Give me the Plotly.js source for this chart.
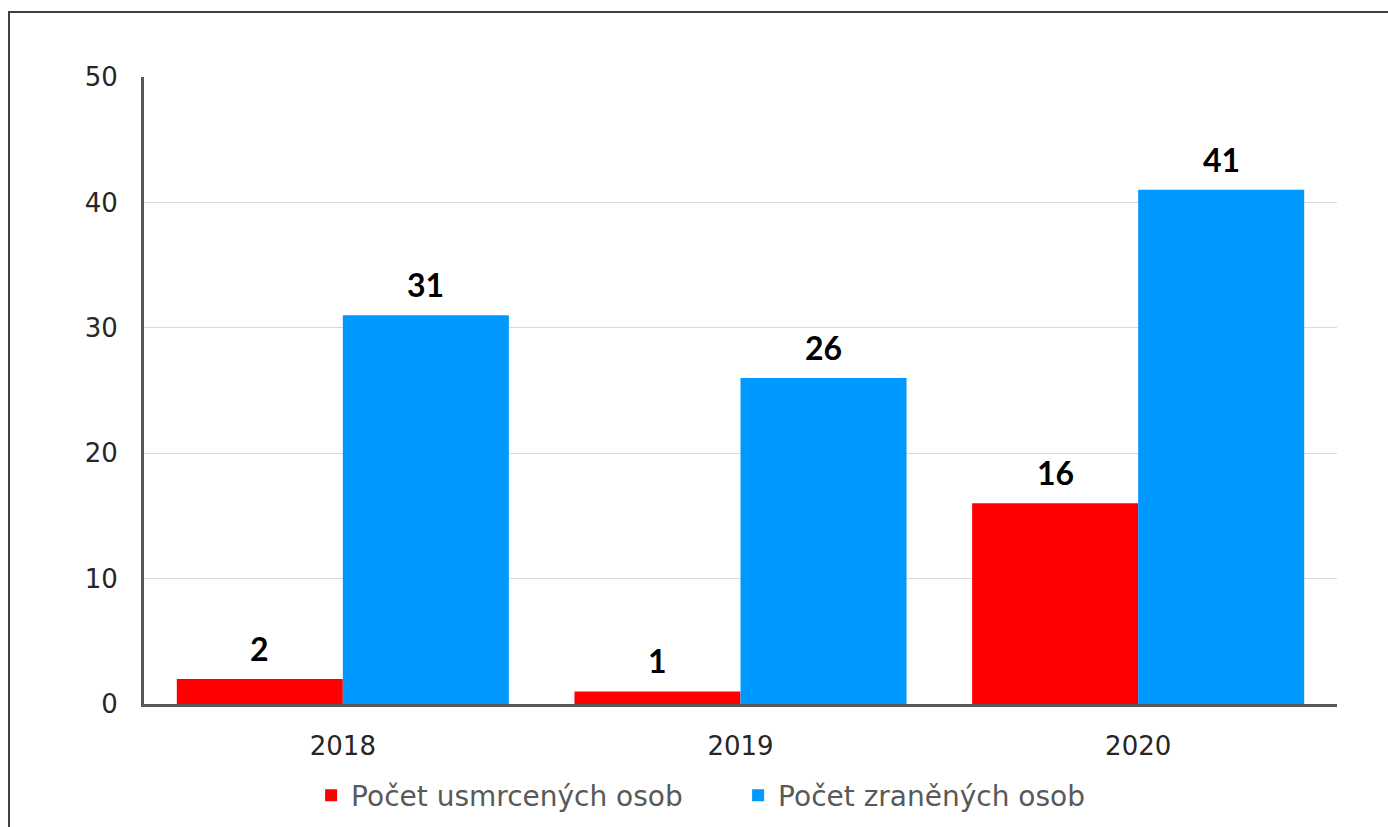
<!DOCTYPE html>
<html>
<head>
<meta charset="utf-8">
<script src="https://cdn.plot.ly/plotly-3.0.1.min.js"></script>
<style>
html,body{margin:0;padding:0;background:#fff;}
#wrap{position:relative;width:1388px;height:827px;overflow:hidden;}
#frame{position:absolute;left:8px;top:11px;right:-5px;bottom:-5px;border-top:2px solid #404040;border-left:2px solid #404040;pointer-events:none;}
#chart{width:1388px;height:827px;}
</style>
</head>
<body>
<div id="wrap">
<div id="chart"></div>
<div id="frame"></div>
</div>
<script>
const years = ['2018', '2019', '2020'];
const killed = [2, 1, 16];
const injured = [31, 26, 41];
const seriesNames = ['Počet usmrcených osob', 'Počet zraněných osob'];
const yTicks = [0, 10, 20, 30, 40, 50];

const fontFam = '"DejaVu Sans", sans-serif';
const labelFam = 'Lato, "DejaVu Sans", sans-serif';

const traces = [
  {type: 'bar', name: seriesNames[0], x: years, y: killed,
   marker: {color: '#FF0000'}, hoverinfo: 'y'},
  {type: 'bar', name: seriesNames[1], x: years, y: injured,
   marker: {color: '#0099FF'}, hoverinfo: 'y'}
];

const annotations = [];
[killed, injured].forEach((arr, si) => {
  arr.forEach((v, i) => {
    annotations.push({
      x: i, y: v, xref: 'x', yref: 'y',
      text: String(v), showarrow: false,
      yanchor: 'bottom', yshift: 9,
      xshift: si === 0 ? -83 : 83,
      font: {family: labelFam, size: 32, color: '#000', weight: 'bold'}
    });
  });
});

const layout = {
  width: 1388, height: 827,
  margin: {l: 144, r: 51, t: 77, b: 123, autoexpand: false},
  paper_bgcolor: '#fff', plot_bgcolor: '#fff',
  barmode: 'group', bargap: 0.165, bargroupgap: 0,
  showlegend: true,
  legend: {orientation: 'h', x: 0.498, xanchor: 'center', y: -0.146, yanchor: 'middle',
           font: {family: fontFam, size: 28, color: '#595959'}, itemwidth: 30,
           entrywidth: 382, entrywidthmode: 'pixels'},
  xaxis: {type: 'category', range: [-0.5, 2.5], showline: true, linecolor: '#595959', linewidth: 3,
          ticks: '', showgrid: false, zeroline: false, automargin: false,
          tickfont: {family: fontFam, size: 26, color: '#262626'}, ticklabelstandoff: 17},
  yaxis: {range: [0, 50], tickvals: yTicks, ticktext: yTicks.map(String),
          showline: true, linecolor: '#595959', linewidth: 3, automargin: false,
          showgrid: true, gridcolor: '#D9D9D9', gridwidth: 1, zeroline: false, ticks: '',
          tickfont: {family: fontFam, size: 26, color: '#262626'}, ticklabelstandoff: 18},
  annotations: annotations
};

Plotly.newPlot('chart', traces, layout, {displayModeBar: false, staticPlot: true});
</script>
</body>
</html>
